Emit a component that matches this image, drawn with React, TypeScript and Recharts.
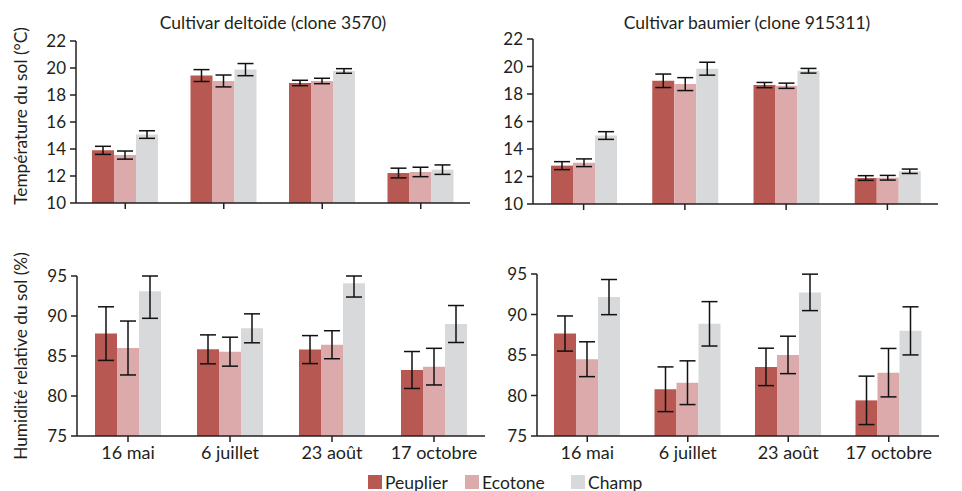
import React from 'react'
import {Bar, BarChart, ErrorBar, XAxis, YAxis} from 'recharts'

const dates = ['16 mai', '6 juillet', '23 août', '17 octobre']
const sites = ['Peuplier', 'Ecotone', 'Champ']
const siteColors = ['#b85852', '#dcaaaa', '#d8d9db']

// Température du sol (°C) — rows: Peuplier, Ecotone, Champ
const tempDeltoide = [
  [13.9, 19.44, 18.89, 12.22],
  [13.55, 19.04, 19.04, 12.3],
  [15.07, 19.88, 19.78, 12.47],
]
const tempDeltoideErr = [
  [0.3, 0.44, 0.2, 0.36],
  [0.3, 0.44, 0.2, 0.35],
  [0.28, 0.45, 0.17, 0.35],
]
const tempBaumier = [
  [12.79, 18.96, 18.65, 11.89],
  [13.0, 18.72, 18.6, 11.91],
  [14.98, 19.84, 19.69, 12.38],
]
const tempBaumierErr = [
  [0.29, 0.49, 0.19, 0.17],
  [0.28, 0.47, 0.19, 0.17],
  [0.28, 0.47, 0.17, 0.16],
]

// Humidité relative du sol (%)
const humDeltoide = [
  [87.8, 85.83, 85.8, 83.25],
  [86.0, 85.54, 86.41, 83.67],
  [93.08, 88.46, 94.1, 89.0],
]
const humDeltoideErr = [
  [3.35, 1.81, 1.75, 2.31],
  [3.37, 1.81, 1.75, 2.29],
  [3.37, 1.81, 1.73, 2.31],
]
const humBaumier = [
  [87.65, 80.77, 83.53, 79.4],
  [84.48, 81.58, 85.01, 82.82],
  [92.15, 88.85, 92.73, 87.98],
]
const humBaumierErr = [
  [2.17, 2.76, 2.31, 2.99],
  [2.15, 2.7, 2.31, 2.99],
  [2.17, 2.74, 2.25, 2.97],
]

const tempTicks = [10, 12, 14, 16, 18, 20, 22]
const humTicks = [75, 80, 85, 90, 95]

const keys = ['p', 'e', 'c']

// error bars are capped at the top of the axis, as in the original figure
const makeRows = (means: number[][], errs: number[][], yMax: number) =>
  dates.map((d, i) => {
    const row: any = {date: d}
    keys.forEach((k, s) => {
      const m = means[s][i]
      const err = errs[s][i]
      row[k] = m
      row[k + 'Err'] = [err, Math.min(err, yMax - m)]
    })
    return row
  })

const font = 'Lato, "Open Sans", sans-serif'
const ink = '#231f20'

const Panel = ({data, left, top, width, height, margin, domain, ticks, showLabels}: any) => (
  <div style={{position: 'absolute', left, top, width, height}}>
    <BarChart
      width={width}
      height={height}
      data={data}
      margin={margin}
      barSize={22}
      barGap={0}
      style={{fontFamily: font}}
    >
      <XAxis
        dataKey="date"
        height={showLabels ? 30 : 10}
        tickSize={6}
        tickMargin={4}
        interval={0}
        axisLine={{stroke: ink, strokeWidth: 1.5}}
        tickLine={{stroke: ink, strokeWidth: 1.5}}
        tick={{fill: ink, fontSize: 18}}
        tickFormatter={showLabels ? undefined : () => ''}
      />
      <YAxis
        type="number"
        domain={domain}
        ticks={ticks}
        allowDataOverflow
        width={40}
        tickSize={6}
        tickMargin={4}
        interval={0}
        axisLine={{stroke: ink, strokeWidth: 1.5}}
        tickLine={{stroke: ink, strokeWidth: 1.5}}
        tick={{fill: ink, fontSize: 17}}
      />
      {keys.map((k, s) => (
        <Bar key={k} dataKey={k} name={sites[s]} fill={siteColors[s]} isAnimationActive={false}>
          <ErrorBar
            dataKey={k + 'Err'}
            width={8}
            stroke="#111"
            strokeWidth={1.5}
            direction="y"
            isAnimationActive={false}
          />
        </Bar>
      ))}
    </BarChart>
  </div>
)

const text = (extra: any) => ({
  position: 'absolute' as const,
  fontFamily: font,
  color: ink,
  whiteSpace: 'nowrap' as const,
  ...extra,
})

export default function App() {
  return (
    <div style={{position: 'absolute', left: 0, top: 0, width: 962, height: 491, background: '#fff'}}>
      <Panel
        data={makeRows(tempDeltoide, tempDeltoideErr, 22)}
        left={0}
        top={0}
        width={480}
        height={220}
        margin={{top: 41, right: 10, bottom: 7, left: 36}}
        domain={[10, 22]}
        ticks={tempTicks}
        showLabels={false}
      />
      <Panel
        data={makeRows(tempBaumier, tempBaumierErr, 22)}
        left={480}
        top={0}
        width={482}
        height={220}
        margin={{top: 39, right: 24, bottom: 6, left: 13}}
        domain={[10, 22]}
        ticks={tempTicks}
        showLabels={false}
      />
      <Panel
        data={makeRows(humDeltoide, humDeltoideErr, 95)}
        left={0}
        top={220}
        width={490}
        height={271}
        margin={{top: 56, right: 5, bottom: 25, left: 37}}
        domain={[75, 95]}
        ticks={humTicks}
        showLabels
      />
      <Panel
        data={makeRows(humBaumier, humBaumierErr, 95)}
        left={480}
        top={220}
        width={482}
        height={271}
        margin={{top: 54, right: 23, bottom: 25, left: 17}}
        domain={[75, 95]}
        ticks={humTicks}
        showLabels
      />

      {/* titles */}
      <div style={text({left: 273, top: 22, fontSize: 17.5, transform: 'translate(-50%, -50%)'})}>
        Cultivar deltoïde (clone 3570)
      </div>
      <div style={text({left: 747, top: 22, fontSize: 17.5, transform: 'translate(-50%, -50%)'})}>
        Cultivar baumier (clone 915311)
      </div>

      {/* y axis titles */}
      <div style={text({left: 20, top: 116, fontSize: 17.3, transform: 'translate(-50%, -50%) rotate(-90deg)'})}>
        Température du sol (°C)
      </div>
      <div style={text({left: 20, top: 356, fontSize: 17.3, transform: 'translate(-50%, -50%) rotate(-90deg)'})}>
        Humidité relative du sol (%)
      </div>

      {/* legend */}
      {sites.map((s, i) => {
        const x = [368, 465, 571][i]
        return (
          <div key={s} style={text({left: x, top: 473, height: 18, display: 'flex', alignItems: 'center', fontSize: 17.5})}>
            <span style={{display: 'inline-block', width: 14, height: 14, background: siteColors[i], marginRight: 3}} />
            {s}
          </div>
        )
      })}
    </div>
  )
}
